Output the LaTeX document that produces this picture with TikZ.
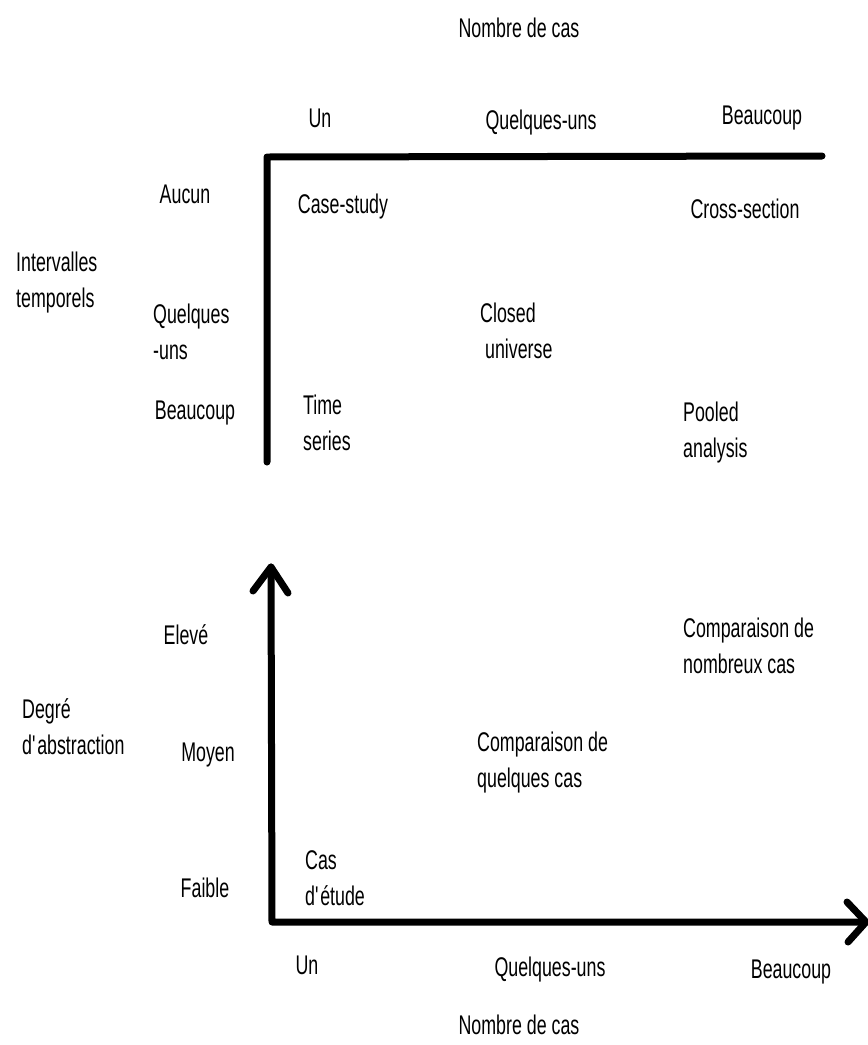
\documentclass[tikz,border=0pt]{standalone}
\usepackage{fontspec}
\setmainfont[FakeStretch=0.66]{Liberation Sans}
\begin{document}
\begin{tikzpicture}[x=1pt,y=-1pt,
  lbl/.style={inner sep=0pt, font=\fontsize{27}{36}\selectfont},
  lbll/.style={lbl, anchor=west, align=left},
  axis/.style={line width=7pt, line cap=round, line join=round}]
\useasboundingbox[fill=white] (0,0) rectangle (868,1045);
% top chart
\coordinate (tO) at (267,157);
\coordinate (tR) at (822,156);
\coordinate (tB) at (267,462);
\draw[axis] (tB) -- (tO) -- (tR);
\node[lbl] (tTitle) at (519,28) {Nombre de cas};
\node[lbl] (tUn) at (320,118) {Un};
\node[lbl] (tQu) at (541,123) {Quelques-uns};
\node[lbl] (tBe) at (762,118) {Beaucoup};
\node[lbl] (tAu) at (185,194) {Aucun};
\node[lbl] (cs) at (343,207) {Case-study};
\node[lbl] (cx) at (745,209) {Cross-section};
\node[lbll] (it) at (16,283) {Intervalles\\temporels};
\node[lbll] (tQl) at (153,332) {Quelques\\-uns};
\node[lbll] (cu) at (480,331) {Closed\\\ universe};
\node[lbl] (tBc) at (195,413) {Beaucoup};
\node[lbll] (ts) at (303,423) {Time\\series};
\node[lbll] (pa) at (683,433) {Pooled\\analysis};
% bottom chart
\coordinate (bO) at (272,922);
\coordinate (bT) at (271,567);
\coordinate (bR) at (866,922);
\coordinate (bTl) at (253,591);
\coordinate (bTr) at (288,593);
\coordinate (bRu) at (847,902);
\coordinate (bRd) at (848,942);
\draw[axis] (bT) -- (bO) -- (bR);
\draw[axis] (bTl) -- (bT) -- (bTr);
\draw[axis] (bRu) -- (bR) -- (bRd);
\node[lbl] (bEl) at (186,635) {Elevé};
\node[lbll] (cn) at (683,646) {Comparaison de\\nombreux cas};
\node[lbll] (da) at (22,727) {Degré\\d\textquotesingle abstraction};
\node[lbl] (bMo) at (208,755) {Moyen};
\node[lbll] (cq) at (477,763) {Comparaison de\\quelques cas};
\node[lbll] (ce) at (305,878) {Cas\\d\textquotesingle étude};
\node[lbl] (bFa) at (205,888) {Faible};
\node[lbl] (bUn) at (307,965) {Un};
\node[lbl] (bQu) at (550,970) {Quelques-uns};
\node[lbl] (bBe) at (791,972) {Beaucoup};
\node[lbl] (bTitle) at (519,1025) {Nombre de cas};
\end{tikzpicture}
\end{document}
